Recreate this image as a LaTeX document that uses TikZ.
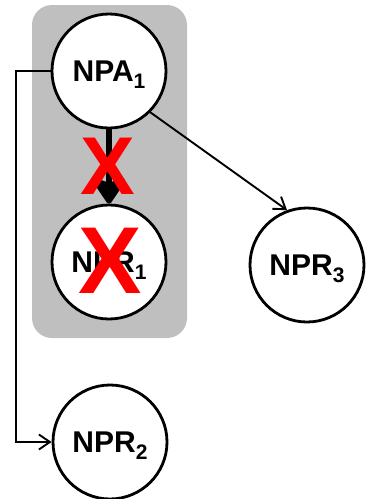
\documentclass[tikz,border=0pt]{standalone}
\usepackage{fontspec}
\setmainfont{Liberation Sans}
\usetikzlibrary{arrows.meta}
\definecolor{panelgray}{RGB}{191,191,191}
\newcommand{\npname}[2]{\bfseries #1\raisebox{-7pt}[0pt][0pt]{\fontsize{21}{21}\selectfont #2}}
\tikzset{
  state/.style={circle, draw=black, line width=2.8pt, fill=white,
    minimum size=114pt, inner sep=0pt, font=\fontsize{30}{30}\selectfont},
  link/.style={line width=1.9pt, -{Straight Barb[length=11pt,width=15pt,line width=1.9pt]}},
  strong/.style={line width=5.5pt, -{Stealth[length=30pt,width=40pt,inset=7pt,round]}},
  cross/.style={text=red, inner sep=0pt, font=\bfseries\fontsize{#1}{#1}\selectfont},
}
\begin{document}
\begin{tikzpicture}[x=1pt, y=-1pt]
  \useasboundingbox (0,0) rectangle (366,499);
  % shaded group around the first pair
  \fill[panelgray, rounded corners=20pt] (32,5) rectangle (187,338);
  % states
  \node[state] (npa1) at (109,71) {\npname{NPA}{1}};
  \node[state] (npr1) at (109,262) {\npname{NPR}{1}};
  \node[state] (npr3) at (307,265) {\npname{NPR}{3}};
  \node[state] (npr2) at (110,442) {\npname{NPR}{2}};
  % connectors
  \draw[link] (npa1.west) -- ++(-35,0) |- (npr2.west);
  \draw[link] (npa1.-45) -- (npr3.110);
  \draw[strong] (npa1.south) -- (npr1.north);
  % blocked marks
  \node[cross=82] (xarrow) at (108,166) {X};
  \node[cross=95] (xstate) at (110,261) {X};
\end{tikzpicture}
\end{document}
